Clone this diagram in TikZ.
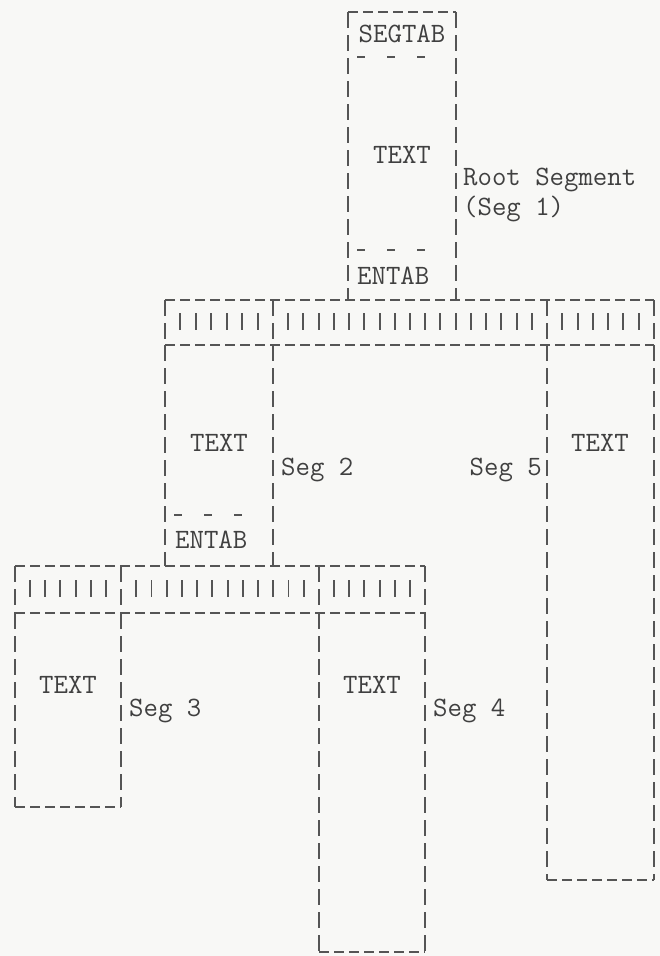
\documentclass[tikz,border=0pt]{standalone}
\usepackage{fontspec}
\usepackage{tikz}
\usetikzlibrary{positioning}
\definecolor{paper}{HTML}{F8F8F6}
\definecolor{ink}{HTML}{555555}
\definecolor{typeink}{HTML}{404040}
\tikzset{
  hdash/.style={draw=ink, line width=1.4pt, dash pattern=on 10pt off 5pt},
  vdash/.style={draw=ink, line width=1.6pt, dash pattern=on 16pt off 7pt},
  sepdash/.style={draw=ink, line width=1.4pt, dash pattern=on 8pt off 22pt},
  tickmark/.style={draw=ink, line width=1.9pt},
  typed/.style={font=\ttfamily\fontsize{28}{31}\selectfont, text=typeink,
    inner sep=0pt},
}
\begin{document}
\begin{tikzpicture}[x=1pt, y=-1pt]
\fill[paper] (0,0) rectangle (660,956);
\useasboundingbox (0,0) rectangle (660,956);
% root segment
\draw[hdash] (348,12) -- (456,12);
\draw[vdash] (348,12) -- (348,300);
\draw[vdash] (456,12) -- (456,300);
\draw[sepdash] (357,57) -- (440,57);
\draw[sepdash] (357,250) -- (440,250);
\node[typed, anchor=base] (segtab-1) at (402,42) {SEGTAB};
\node[typed, anchor=base] (text-1) at (402,163) {TEXT};
\node[typed, anchor=base west] (entab-1) at (357,284) {ENTAB};
\node[typed, anchor=base west] (label-1) at (463,185) {Root Segment};
\node[typed, anchor=base west] (label-1b) at (463,215) {(Seg 1)};
% first table band
\draw[hdash] (165,300) -- (654,300);
\draw[hdash] (165,345) -- (654,345);
\foreach \x in {165,273,547,654}
  \draw[vdash] (\x,300) -- (\x,345);
\foreach \a/\b/\n/\m in {165/273/7/6, 273/547/18/17, 547/654/7/6}
  \foreach \k in {1,...,\m}
    \draw[tickmark] ({\a+\k*(\b-\a)/\n},313) -- ++(0,17);
% seg 2
\draw[vdash] (165,345) -- (165,566);
\draw[vdash] (273,345) -- (273,566);
\draw[sepdash] (174,515) -- (257,515);
\node[typed, anchor=base] (text-2) at (219,451) {TEXT};
\node[typed, anchor=base west] (entab-2) at (175,548) {ENTAB};
\node[typed, anchor=base west] (label-2) at (281,475) {Seg 2};
% seg 5
\draw[vdash] (547,345) -- (547,880);
\draw[vdash] (654,345) -- (654,880);
\draw[hdash] (547,880) -- (654,880);
\node[typed, anchor=base] (text-5) at (600,451) {TEXT};
\node[typed, anchor=base east] (label-5) at (542,475) {Seg 5};
% second table band
\draw[hdash] (15,566) -- (425,566);
\draw[hdash] (15,613) -- (425,613);
\foreach \x in {15,121,319,425}
  \draw[vdash] (\x,566) -- (\x,613);
\foreach \a/\b/\n/\m in {15/121/7/6, 121/319/13/12, 319/425/7/6}
  \foreach \k in {1,...,\m}
    \draw[tickmark] ({\a+\k*(\b-\a)/\n},580) -- ++(0,17);
% seg 3
\draw[vdash] (15,613) -- (15,807);
\draw[vdash] (121,613) -- (121,807);
\draw[hdash] (15,807) -- (121,807);
\node[typed, anchor=base] (text-3) at (68,693) {TEXT};
\node[typed, anchor=base west] (label-3) at (129,716) {Seg 3};
% seg 4
\draw[vdash] (319,613) -- (319,952);
\draw[vdash] (425,613) -- (425,952);
\draw[hdash] (319,952) -- (425,952);
\node[typed, anchor=base] (text-4) at (372,693) {TEXT};
\node[typed, anchor=base west] (label-4) at (433,716) {Seg 4};
\end{tikzpicture}
\end{document}
